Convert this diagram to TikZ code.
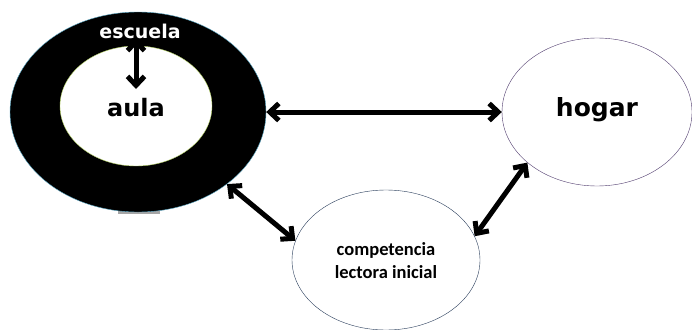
\documentclass[tikz,border=0pt]{standalone}
\usepackage{fontspec}
\setmainfont{Carlito}
\newfontfamily\handfont{DejaVu Sans}
\usetikzlibrary{arrows.meta,shapes.geometric}
\definecolor{escline}{RGB}{90,170,200}
\definecolor{aulaline}{RGB}{170,200,90}
\definecolor{hogline}{RGB}{80,60,110}
\definecolor{compline}{RGB}{40,60,90}
\begin{document}
\begin{tikzpicture}[x=1pt,y=-1pt,
  conn/.style={line width=5pt,{Straight Barb[length=9pt,width=17pt]}-{Straight Barb[length=9pt,width=17pt]}},
  lbl/.style={font=\handfont\bfseries\fontsize{24}{26}\selectfont},
  ell/.style={ellipse,inner sep=0}]
\useasboundingbox (0,0) rectangle (692,329);
\fill[gray!70] (118,208) rectangle (160,214);
\node[ell,draw=escline,fill=black,minimum width=256pt,minimum height=200pt] (escuela) at (138,112) {};
\node[ell,draw=aulaline,fill=white,minimum width=152pt,minimum height=120pt] (aula) at (136,106) {};
\node[text=white,font=\handfont\bfseries\fontsize{19}{21}\selectfont] (tesc) at (140,31) {escuela};
\node[lbl] (taula) at (136,108) {aula};
\node[ell,draw=hogline,fill=white,minimum width=190pt,minimum height=148pt] (hogar) at (597,112) {};
\node[lbl,font=\handfont\bfseries\fontsize{25}{27}\selectfont] (thog) at (597,110) {hogar};
\node[ell,draw=compline,fill=white,minimum width=188pt,minimum height=140pt] (comp) at (386,260) {};
\node[font=\bfseries\fontsize{18.5}{23}\selectfont,align=center] (tcomp) at (386,261) {competencia\\lectora inicial};
\coordinate (a1) at (136,38);
\coordinate (a2) at (136,89);
\draw[conn] (a1) -- (a2);
\draw[conn] (escuela.east) -- (hogar.west);
\draw[conn] (escuela.-39) -- (comp.168);
\draw[conn] (hogar.-144) -- (comp.15);
\end{tikzpicture}
\end{document}
